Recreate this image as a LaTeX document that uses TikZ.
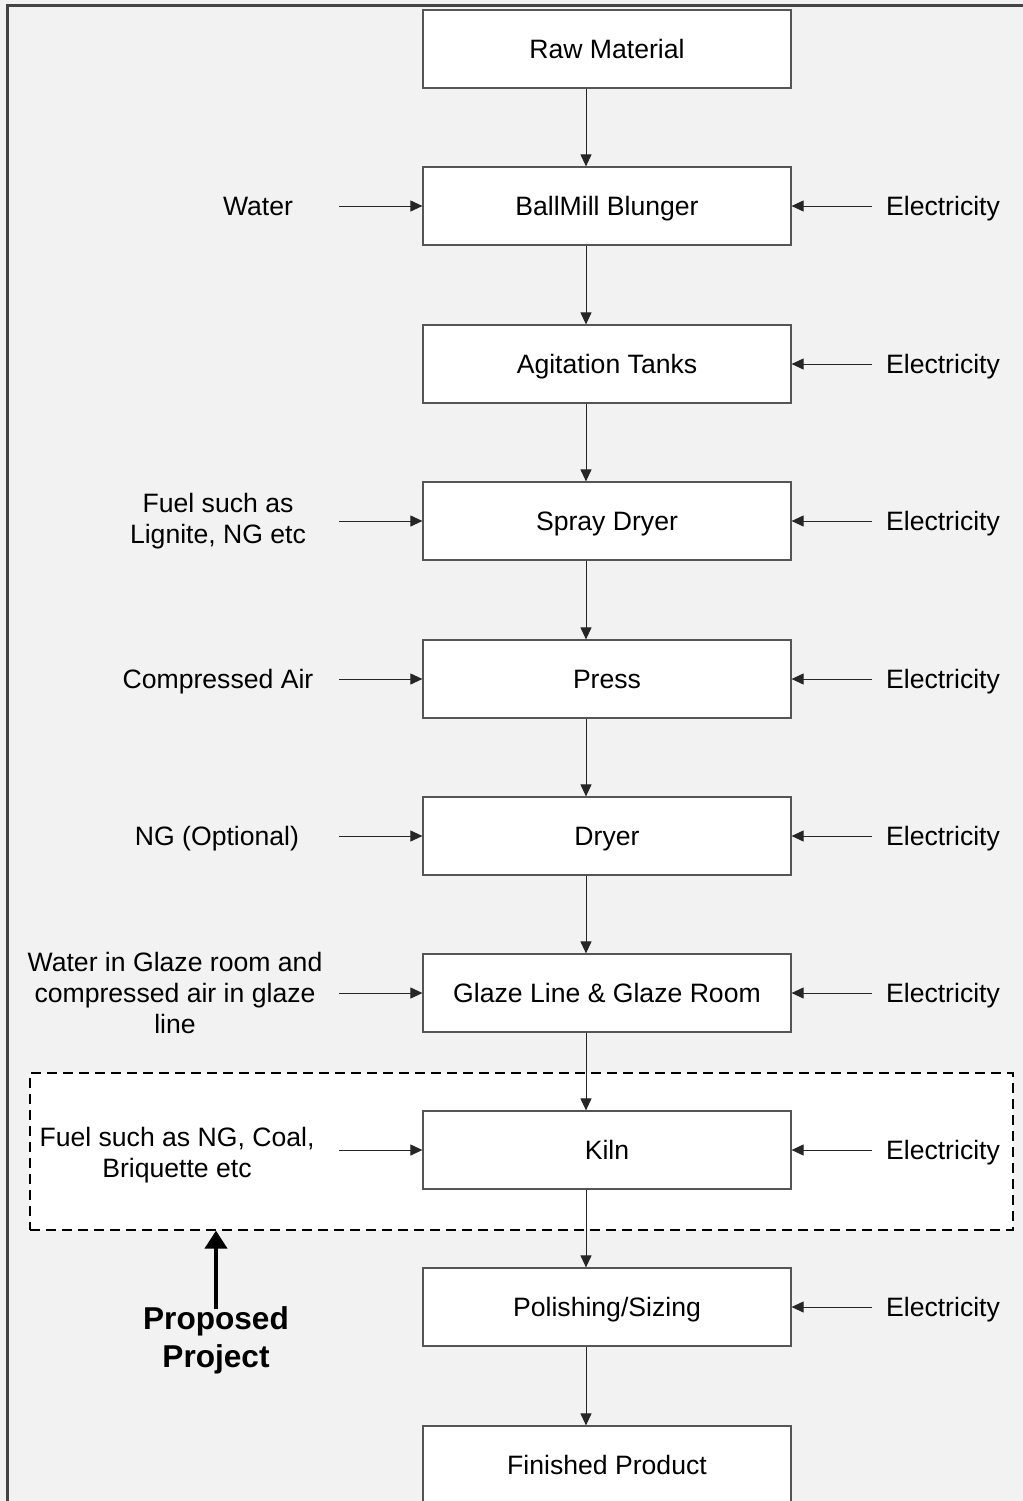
\documentclass[tikz,border=0pt]{standalone}
\usepackage{fontspec}
\setmainfont{Liberation Sans}
\usetikzlibrary{arrows.meta,calc}
\definecolor{bg}{HTML}{F2F2F2}
\definecolor{edge}{HTML}{555555}
\definecolor{frame}{HTML}{444444}
\begin{document}
\begin{tikzpicture}[x=0.5pt,y=-0.5pt,
  proc/.style={draw=edge,line width=0.6pt,fill=white,minimum width=184pt,minimum height=39pt,inner sep=0pt,text height=9.5pt,text depth=0pt,font=\fontsize{13.3}{15.5}\selectfont},
  lbl/.style={align=center,inner sep=0pt,font=\fontsize{13.3}{15.5}\selectfont},
  elec/.style={inner sep=0pt,text height=9.5pt,text depth=0pt,font=\fontsize{13.3}{15.5}\selectfont},
  flow/.style={draw=black!85,line width=0.5pt,-{Triangle[length=6pt,width=5.5pt]}},
  projbox/.style={draw=black,fill=white,line width=0.6pt,dash pattern=on 5pt off 3pt,minimum width=491.5pt,minimum height=78.5pt,inner sep=0pt}]
\useasboundingbox (0,0) rectangle (1023,1501);
\fill[bg] (0,0) rectangle (1023,1501);
\draw[frame,line width=1.5pt] (7,1520) -- (7,5.5) -- (1040,5.5);

\node[projbox] (proj) at (521.5,1151.5) {};

\node[proc] (raw)   at (607,49)   {Raw Material};
\node[proc] (ball)  at (607,206)  {BallMill Blunger};
\node[proc] (agit)  at (607,364)  {Agitation Tanks};
\node[proc] (spray) at (607,521)  {Spray Dryer};
\node[proc] (press) at (607,679)  {Press};
\node[proc] (dryer) at (607,836)  {Dryer};
\node[proc] (glaze) at (607,993)  {Glaze Line \& Glaze Room};
\node[proc] (kiln)  at (607,1150) {Kiln};
\node[proc] (pol)   at (607,1307) {Polishing/Sizing};
\node[proc] (fin)   at (607,1465) {Finished Product};

\foreach \a/\b in {raw/ball,ball/agit,agit/spray,spray/press,press/dryer,dryer/glaze,glaze/kiln,kiln/pol,pol/fin}
  \draw[flow] ([xshift=-10.5pt]\a.south) -- ([xshift=-10.5pt]\b.north);

\node[elec] (lwater) at (258,206) {Water};
\node[lbl] (lfuel1) at (218,521) {Fuel such as\\Lignite, NG etc};
\node[elec] (lair)   at (218,679) {Compressed Air};
\node[elec] (lng)    at (217,836) {NG (Optional)};
\node[lbl] (lglaze) at (175,993) {Water in Glaze room and\\compressed air in glaze\\line};
\node[lbl] (lfuel2) at (177,1155) {Fuel such as NG, Coal,\\Briquette etc};

\foreach \b in {ball,spray,press,dryer,glaze,kiln}
  \draw[flow] ([xshift=-41.5pt]\b.west) -- (\b.west);

\foreach \b/\n in {ball/e1,agit/e2,spray/e3,press/e4,dryer/e5,glaze/e6,kiln/e7,pol/e8}{
  \node[elec] (\n) at (943,0 |- \b) {Electricity};
  \draw[flow] ([xshift=40pt]\b.east) -- (\b.east);
}

\node[align=center,inner sep=0pt,font=\fontsize{15.8}{19}\selectfont\bfseries] (prop) at (216,1340) {Proposed\\Project};
\coordinate (pstart) at (216,1309);
\draw[line width=2pt,-{Triangle[length=9pt,width=11pt]}] (pstart) -- (pstart |- proj.south);
\end{tikzpicture}
\end{document}
